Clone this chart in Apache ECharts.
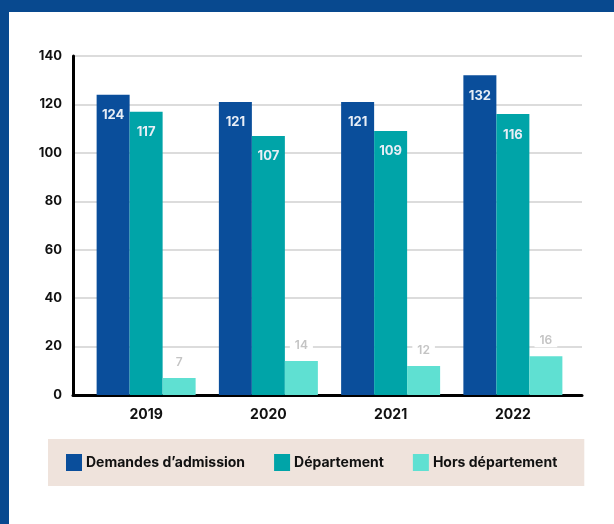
<!DOCTYPE html>
<html>
<head>
<meta charset="utf-8">
<script src="https://cdn.jsdelivr.net/npm/echarts@6/dist/echarts.min.js"></script>
<style>
  html, body { margin: 0; padding: 0; background: #ffffff; }
  #wrap { position: relative; width: 614px; height: 524px; overflow: hidden; }
  #chart { position: absolute; left: 0; top: 0; width: 614px; height: 524px; }
  .edge { position: absolute; background: #08498f; z-index: 2; }
  #edgeTop { left: 0; top: 0; width: 614px; height: 12px; }
  #edgeLeft { left: 0; top: 0; width: 9px; height: 524px; }
</style>
</head>
<body>
<div id="wrap">
  <div id="chart"></div>
  <div class="edge" id="edgeTop"></div>
  <div class="edge" id="edgeLeft"></div>
</div>
<script>
// Admission requests per year, split by origin
const years = ['2019', '2020', '2021', '2022'];
const demandes = [124, 121, 121, 132];
const departement = [117, 107, 109, 116];
const horsDepartement = [7, 14, 12, 16];
const seriesNames = ['Demandes d\u2019admission', 'Département', 'Hors département'];
const yTicks = { min: 0, max: 140, interval: 20 };

const FONT = 'Inter, "Open Sans", sans-serif';
const COLORS = ['#0a4e9b', '#00a4a8', '#5fe0d2'];

const chart = echarts.init(document.getElementById('chart'), null, { renderer: 'canvas' });

const insideLabel = {
  show: true,
  position: 'insideTop',
  distance: 14,
  color: '#e8eef6',
  fontFamily: FONT,
  fontWeight: 700,
  fontSize: 13
};

chart.setOption({
  animation: false,
  color: COLORS,
  textStyle: { fontFamily: FONT },
  grid: [
    // frame: y scale, grid lines and both axis lines
    { left: 73, right: 32, top: 56, bottom: 129 },
    // bars
    { left: 85, right: 40, top: 56, bottom: 129 }
  ],
  xAxis: [
    {
      gridIndex: 0, type: 'category', data: [''],
      axisLine: { show: true, lineStyle: { color: '#000', width: 3 } },
      axisTick: { show: false }, axisLabel: { show: false }, splitLine: { show: false }
    },
    {
      gridIndex: 1, type: 'category', data: years,
      axisLine: { show: false }, axisTick: { show: false },
      axisLabel: { color: '#111', fontFamily: FONT, fontWeight: 700, fontSize: 14, margin: 13 }
    }
  ],
  yAxis: [
    {
      gridIndex: 0, type: 'value', min: yTicks.min, max: yTicks.max, interval: yTicks.interval,
      axisLine: { show: true, lineStyle: { color: '#000', width: 3 } },
      axisTick: { show: false },
      axisLabel: { color: '#111', fontFamily: FONT, fontWeight: 700, fontSize: 13, margin: 11 },
      splitLine: { show: true, lineStyle: { color: '#dcdcdc', width: 2 } }
    },
    {
      gridIndex: 1, type: 'value', min: yTicks.min, max: yTicks.max, interval: yTicks.interval,
      show: false, splitLine: { show: false }
    }
  ],
  legend: {
    left: 48, top: 439,
    padding: [15, 27, 15, 18],
    backgroundColor: '#efe3dc',
    itemWidth: 16, itemHeight: 17, itemGap: 29,
    icon: 'rect',
    textStyle: { color: '#111', fontFamily: FONT, fontWeight: 700, fontSize: 14, padding: [0, 0, 0, -1] },
    data: seriesNames
  },
  series: [
    {
      name: seriesNames[0], type: 'bar', xAxisIndex: 1, yAxisIndex: 1,
      data: demandes, barWidth: 33, barGap: '0%',
      label: insideLabel
    },
    {
      name: seriesNames[1], type: 'bar', xAxisIndex: 1, yAxisIndex: 1,
      data: departement, barWidth: 33, barGap: '0%',
      label: insideLabel
    },
    {
      name: seriesNames[2], type: 'bar', xAxisIndex: 1, yAxisIndex: 1,
      data: horsDepartement, barWidth: 33, barGap: '0%',
      label: {
        show: true, position: 'top', distance: 9,
        color: '#c4c4c4', fontFamily: FONT, fontWeight: 600, fontSize: 12,
        backgroundColor: '#ffffff', padding: [1, 5]
      }
    }
  ]
});
</script>
</body>
</html>
